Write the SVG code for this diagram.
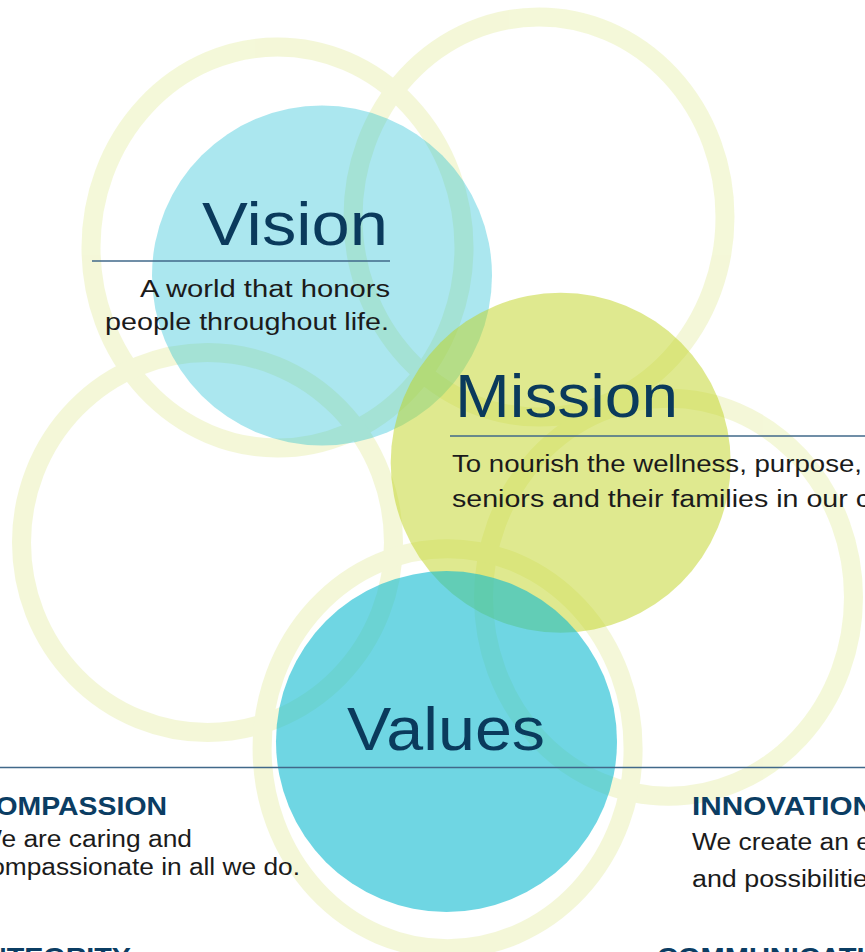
<svg xmlns="http://www.w3.org/2000/svg" width="865" height="952" viewBox="0 0 865 952">
  <style>
    .ring { fill: none; stroke: #bfd31f; stroke-width: 19; }
    .title { font-family: "Liberation Sans", Arial, sans-serif; font-size: 61px; fill: #0a3a5c; }
    .body { font-family: "Liberation Sans", Arial, sans-serif; font-size: 23px; fill: #1b1b1b; }
    .head { font-family: "Liberation Sans", Arial, sans-serif; font-size: 26px; font-weight: bold; fill: #0b3d63; }
    .rule { stroke: #41698a; stroke-width: 1.6; }
  </style>
  <rect width="865" height="952" fill="#ffffff"/>

  <g id="rings" opacity="0.17">
    <ellipse class="ring" cx="277.5" cy="247.5" rx="186.5" ry="200.5"/>
    <ellipse class="ring" cx="539" cy="217" rx="186" ry="200"/>
    <ellipse class="ring" cx="207.5" cy="542.5" rx="186" ry="190"/>
    <ellipse class="ring" cx="668.5" cy="597.3" rx="185" ry="199"/>
    <ellipse class="ring" cx="447.6" cy="748.7" rx="185.5" ry="200"/>
  </g>

  <g id="vision">
    <circle cx="322" cy="275.5" r="170" fill="#0fbbd0" fill-opacity="0.35"/>
    <text class="title" x="388" y="245" text-anchor="end" textLength="186" lengthAdjust="spacingAndGlyphs">Vision</text>
    <line class="rule" x1="92" y1="261" x2="390" y2="261"/>
    <text class="body" x="390" y="297" text-anchor="end" textLength="250" lengthAdjust="spacingAndGlyphs">A world that honors</text>
    <text class="body" x="389" y="330" text-anchor="end" textLength="284" lengthAdjust="spacingAndGlyphs">people throughout life.</text>
  </g>

  <g id="mission">
    <circle cx="560.7" cy="462.7" r="170" fill="#bfd31f" fill-opacity="0.5"/>
    <text class="title" x="455" y="417" textLength="223" lengthAdjust="spacingAndGlyphs">Mission</text>
    <line class="rule" x1="450" y1="436" x2="865" y2="436"/>
    <text class="body" x="452" y="472" textLength="410" lengthAdjust="spacingAndGlyphs">To nourish the wellness, purpose,</text>
    <text class="body" x="452" y="507" textLength="418" lengthAdjust="spacingAndGlyphs">seniors and their families in our c</text>
  </g>

  <g id="values">
    <circle cx="446.5" cy="741.6" r="170.5" fill="#0fbbd0" fill-opacity="0.6"/>
    <text class="title" x="347" y="750" font-size="62" textLength="198" lengthAdjust="spacingAndGlyphs">Values</text>
    <line class="rule" x1="0" y1="767.5" x2="865" y2="767.5"/>
  </g>

  <g id="compassion">
    <text class="head" x="167" y="815" text-anchor="end" textLength="192" lengthAdjust="spacingAndGlyphs">COMPASSION</text>
    <text class="body" x="192" y="847" text-anchor="end" textLength="215" lengthAdjust="spacingAndGlyphs">We are caring and</text>
    <text class="body" x="300" y="875" text-anchor="end" textLength="323" lengthAdjust="spacingAndGlyphs">compassionate in all we do.</text>
  </g>

  <g id="innovation">
    <text class="head" x="692" y="815" textLength="182" lengthAdjust="spacingAndGlyphs">INNOVATION</text>
    <text class="body" x="692" y="850" textLength="179" lengthAdjust="spacingAndGlyphs">We create an e</text>
    <text class="body" x="692" y="886.5" textLength="176" lengthAdjust="spacingAndGlyphs">and possibilitie</text>
  </g>

  <g id="integrity">
    <text class="head" x="131" y="966" text-anchor="end" textLength="153" lengthAdjust="spacingAndGlyphs">INTEGRITY</text>
  </g>

  <g id="communication">
    <text class="head" x="657" y="966" textLength="251" lengthAdjust="spacingAndGlyphs">COMMUNICATION</text>
  </g>
</svg>
